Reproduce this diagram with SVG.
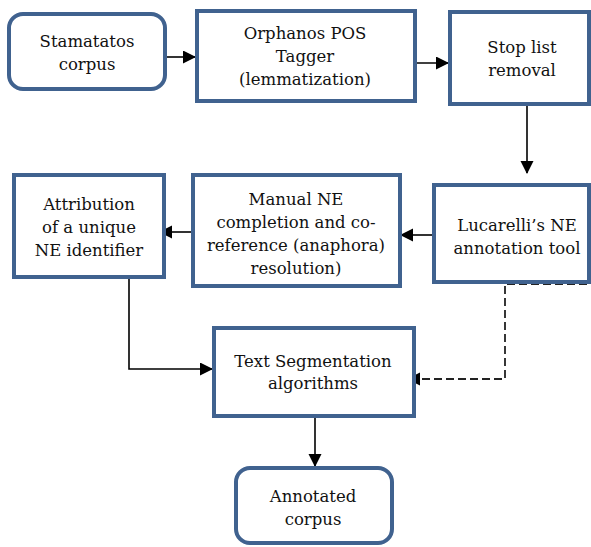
<svg xmlns="http://www.w3.org/2000/svg" width="591" height="547" viewBox="0 0 591 547">
<style>
.box{fill:#fff;stroke:#40628f;stroke-width:4}
.t{font-family:"DejaVu Serif",serif;font-size:16.5px;fill:#111;text-anchor:middle}
.c{fill:none;stroke:#000;stroke-width:1.6}
.d{fill:none;stroke:#222;stroke-width:1.8;stroke-dasharray:8,4}
</style>
<defs>
<marker id="ah" markerWidth="14" markerHeight="14" refX="12" refY="6.5" orient="auto" markerUnits="userSpaceOnUse">
<path d="M0,0 L13,6.5 L0,13 Z" fill="#000"/>
</marker>
</defs>
<rect width="591" height="547" fill="#fff"/>
<g id="connectors">
<line class="c" x1="165" y1="57" x2="195" y2="57" marker-end="url(#ah)"/>
<line class="c" x1="415" y1="63" x2="448" y2="63" marker-end="url(#ah)"/>
<line class="c" x1="527" y1="105" x2="527" y2="173" marker-end="url(#ah)"/>
<line class="c" x1="433" y1="235" x2="401" y2="235" marker-end="url(#ah)"/>
<line class="c" x1="192" y1="232" x2="160" y2="232" marker-end="url(#ah)"/>
<polyline class="c" points="129,277 129,369 212,369" marker-end="url(#ah)"/>
<polyline class="d" points="587,284 505,284 505,379 420,379"/>
<line class="c" x1="420" y1="379" x2="408" y2="379" marker-end="url(#ah)"/>
<line class="c" x1="315" y1="416" x2="315" y2="466" marker-end="url(#ah)"/>
</g>
<g id="stamatatos">
<rect class="box" x="9" y="14" width="156" height="75" rx="14"/>
<text class="t" x="87" y="47">Stamatatos</text>
<text class="t" x="87" y="70">corpus</text>
</g>
<g id="orphanos">
<rect class="box" x="197" y="11" width="218" height="90"/>
<text class="t" x="305" y="39">Orphanos POS</text>
<text class="t" x="305" y="62">Tagger</text>
<text class="t" x="305" y="85">(lemmatization)</text>
</g>
<g id="stoplist">
<rect class="box" x="450" y="12" width="139" height="92"/>
<text class="t" x="522" y="53">Stop list</text>
<text class="t" x="522" y="76">removal</text>
</g>
<g id="lucarelli">
<rect class="box" x="434" y="185" width="155" height="97"/>
<text class="t" x="517" y="231">Lucarelli’s NE</text>
<text class="t" x="517" y="254">annotation tool</text>
</g>
<g id="manual">
<rect class="box" x="193" y="175" width="207" height="111"/>
<text class="t" x="296" y="205">Manual NE</text>
<text class="t" x="296" y="228">completion and co-</text>
<text class="t" x="296" y="251">reference (anaphora)</text>
<text class="t" x="296" y="274">resolution)</text>
</g>
<g id="attribution">
<rect class="box" x="14" y="175" width="150" height="102"/>
<text class="t" x="89" y="210">Attribution</text>
<text class="t" x="89" y="233">of a unique</text>
<text class="t" x="89" y="256">NE identifier</text>
</g>
<g id="textseg">
<rect class="box" x="214" y="328" width="200" height="88"/>
<text class="t" x="313" y="367">Text Segmentation</text>
<text class="t" x="313" y="389">algorithms</text>
</g>
<g id="annotated">
<rect class="box" x="236" y="468" width="156" height="75" rx="14"/>
<text class="t" x="313" y="502">Annotated</text>
<text class="t" x="313" y="525">corpus</text>
</g>
</svg>
